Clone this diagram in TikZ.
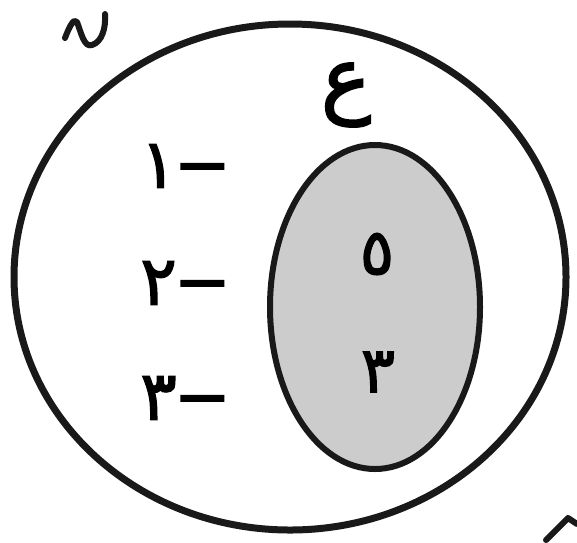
\documentclass[tikz,border=0pt]{standalone}
\usepackage{fontspec}
\newfontfamily\arabicfont[Script=Arabic, FakeBold=2]{DejaVu Sans}
\TeXXeTstate=1
\usepackage{tikz}
\usetikzlibrary{positioning}

\begin{document}
\begin{tikzpicture}[x=1pt,y=-1pt,
  setline/.style={draw=black!90, line width=7pt},
  subset/.style={draw=black!90, line width=6pt, fill=black!20},
  numlabel/.style={font=\arabicfont\fontsize{68}{72}\selectfont, inner sep=0pt, anchor=east},
  elem/.style={font=\arabicfont\fontsize{64}{68}\selectfont, inner sep=0pt},
  stub/.style={draw=black!90, line width=6pt, line cap=round, line join=round},
]
  \useasboundingbox (0,0) rectangle (577,542);

  % --- sets ---
  \draw[setline] (290,277) ellipse [x radius=276, y radius=253];
  \draw[subset] (375,307) ellipse [x radius=105, y radius=162];
  \node[font=\arabicfont\fontsize{84}{88}\selectfont, inner sep=0pt] (ain) at (346,95) {ع};

  % --- numbers outside ---
  \node[numlabel] (mone)   at (231,166) {\beginR −\kern-3pt ١\endR};
  \node[numlabel] (mtwo)   at (231,283) {\beginR −\kern-3pt ٢\endR};
  \node[numlabel] (mthree) at (231,398) {\beginR −\kern-3pt ٣\endR};

  % --- numbers inside ---
  \node[elem] (five)  at (377,254) {٥};
  \node[elem] (three) at (378,372) {٣};

  % --- cut-off marks at the corners ---
  \draw[stub] (65,38) .. controls (70,25) and (74,18) .. (77,22)
    .. controls (81,32) and (84,48) .. (92,45)
    .. controls (102,42) and (106,28) .. (105,14);
  \draw[stub] (546,540) -- (568,518) -- (577,524);
\end{tikzpicture}
\end{document}
